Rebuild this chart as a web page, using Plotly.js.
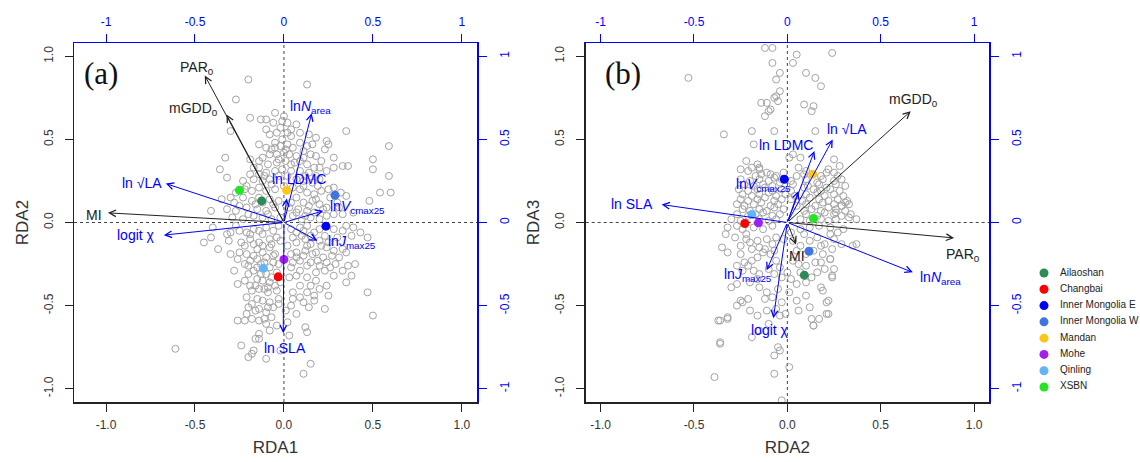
<!DOCTYPE html>
<html>
<head>
<meta charset="utf-8">
<script src="https://cdn.plot.ly/plotly-3.0.1.min.js"></script>
<style>html,body{margin:0;padding:0;background:#fff;}#chart{width:1140px;height:462px;}</style>
</head>
<body>
<div id="chart"></div>
<script>
// ---------- data ----------
const siteNames = ['Ailaoshan','Changbai','Inner Mongolia E','Inner Mongolia W','Mandan','Mohe','Qinling','XSBN'];
const siteColors = ['#2E8B57','#FF0000','#0000FF','#4174E3','#FFC51A','#A020F0','#63B4F5','#22E622'];
const siteA_x = [-0.125,-0.032,0.236,0.287,0.015,0.0,-0.116,-0.25];
const siteA_y = [0.13,-0.327,-0.022,0.164,0.194,-0.222,-0.276,0.194];
const siteB_x = [0.091,-0.228,-0.016,0.116,0.136,-0.155,-0.19,0.14];
const siteB_y = [-0.317,-0.006,0.26,-0.173,0.29,-0.002,0.048,0.024];

const varLabels = ['PAR<sub>0</sub>','mGDD<sub>0</sub>','MI','ln √LA','logit χ','ln<i>N</i><sub>area</sub>','ln LDMC','ln<i>V</i><sub>cmax25</sub>','ln<i>J</i><sub>max25</sub>','ln SLA'];
const varIsEnv = [true,true,true,false,false,false,false,false,false,false];
const arrowA_x = [-0.445,-0.323,-0.989,-0.664,-0.675,0.156,0.015,0.221,0.188,-0.004];
const arrowA_y = [0.885,0.65,0.058,0.234,-0.076,0.658,0.144,0.07,-0.11,-0.666];
const labelA_x = [-0.49,-0.51,-1.07,-0.80,-0.83,0.149,0.083,0.416,0.384,0.008];
const labelA_y = [0.93,0.685,0.044,0.238,-0.076,0.694,0.264,0.094,-0.117,-0.753];
const arrowB_x = [0.893,0.661,0.046,0.243,-0.075,0.672,0.145,0.059,-0.111,-0.673];
const arrowB_y = [-0.093,0.67,-0.132,0.5,-0.576,-0.30,0.43,0.189,-0.288,0.108];
const labelB_x = [0.941,0.673,0.05,0.32,-0.095,0.82,-0.007,-0.13,-0.213,-0.83];
const labelB_y = [-0.193,0.735,-0.203,0.56,-0.645,-0.334,0.466,0.223,-0.313,0.112];

const tickVals = [-1,-0.5,0,0.5,1];
const tickMain = ['-1.0','-0.5','0.0','0.5','1.0'];
const tickSec = ['-1','-0.5','0','0.5','1'];

// sample scores, panel (a): RDA1 vs RDA2
const ptsA = [
[-0.20,0.86],[0.13,0.83],[-0.27,0.74],[-0.05,0.66],[0.0,0.64],[-0.01,0.61],[0.02,0.60],[0.07,0.59],[0.04,0.56],[-0.02,0.57],
[-0.10,0.62],[-0.13,0.62],[-0.10,0.56],[-0.06,0.60],[-0.19,0.63],[-0.30,0.55],[0.02,0.54],[-0.04,0.54],[-0.08,0.53],[-0.01,0.50],
[-0.05,0.48],[0.04,0.52],[0.09,0.54],[0.14,0.53],[0.18,0.51],[0.35,0.55],[0.24,0.49],[0.25,0.47],[-0.14,0.47],[-0.10,0.45],
[-0.05,0.45],[-0.02,0.46],[0.02,0.47],[0.05,0.45],[0.09,0.48],[0.13,0.46],[0.16,0.47],[-0.08,0.41],[-0.04,0.41],[0.0,0.42],
[0.03,0.41],[0.07,0.40],[0.11,0.43],[0.15,0.41],[0.18,0.40],[0.23,0.44],[-0.12,0.39],[-0.14,0.37],[-0.19,0.38],[-0.33,0.39],
[0.28,0.39],[0.21,0.37],[0.50,0.38],[0.59,0.46],[-0.17,0.33],[-0.14,0.33],[-0.09,0.35],[-0.04,0.36],[0.01,0.37],[0.04,0.35],
[0.09,0.37],[0.13,0.35],[0.17,0.33],[0.20,0.33],[0.24,0.31],[0.28,0.33],[0.33,0.34],[0.36,0.34],[-0.19,0.29],[-0.14,0.29],
[-0.10,0.30],[-0.05,0.31],[-0.01,0.32],[0.04,0.31],[0.09,0.31],[0.14,0.30],[0.18,0.28],[-0.36,0.32],[-0.32,0.27],[0.50,0.32],
[0.59,0.28],[-0.23,0.25],[-0.17,0.26],[-0.12,0.25],[-0.08,0.26],[0.07,0.26],[0.11,0.25],[0.16,0.24],[0.20,0.26],[-0.30,0.15],
[-0.27,0.18],[-0.22,0.20],[-0.18,0.19],[-0.14,0.21],[-0.10,0.19],[-0.05,0.20],[0.05,0.21],[0.09,0.20],[0.13,0.18],[0.17,0.17],
[0.21,0.19],[0.25,0.20],[0.28,0.21],[0.32,0.18],[0.35,0.16],[-0.35,0.14],[-0.28,0.12],[-0.23,0.15],[-0.18,0.13],[-0.14,0.15],
[-0.08,0.14],[-0.03,0.13],[0.07,0.15],[0.11,0.12],[0.16,0.13],[0.20,0.11],[0.24,0.09],[0.54,0.18],[0.60,0.18],[0.48,0.13],
[-0.41,0.07],[-0.32,0.08],[-0.27,0.07],[-0.21,0.09],[-0.15,0.08],[-0.10,0.07],[-0.05,0.09],[0.03,0.09],[0.08,0.08],[0.13,0.07],
[0.17,0.06],[0.22,0.08],[0.28,0.05],[0.33,0.05],[0.39,0.06],[-0.29,0.03],[-0.23,0.02],[-0.17,0.04],[-0.12,0.03],[-0.07,0.02],
[-0.02,0.03],[0.05,0.04],[0.10,0.02],[0.15,0.03],[0.20,0.02],
[-0.40,-0.03],[-0.32,-0.07],[-0.30,-0.06],[-0.25,-0.05],[-0.21,-0.06],[-0.17,-0.04],[-0.14,-0.05],[-0.10,-0.03],[-0.06,-0.05],[-0.03,-0.02],
[0.04,-0.04],[0.09,-0.03],[0.13,-0.02],[0.17,-0.06],[0.20,-0.04],[0.28,-0.04],[0.33,-0.05],[0.35,-0.02],[0.39,-0.03],[0.43,-0.06],
[0.47,-0.09],[-0.45,-0.12],[-0.41,-0.09],[-0.31,-0.11],[-0.24,-0.12],[-0.19,-0.10],[-0.14,-0.12],[-0.08,-0.10],[-0.04,-0.09],[0.05,-0.09],
[0.10,-0.08],[0.13,-0.14],[0.20,-0.11],[0.24,-0.15],[0.28,-0.17],[0.33,-0.16],[0.35,-0.18],[-0.37,-0.16],[-0.30,-0.19],[-0.25,-0.18],
[-0.21,-0.19],[-0.15,-0.16],[-0.12,-0.18],[-0.08,-0.15],[-0.05,-0.19],[0.04,-0.19],[0.07,-0.18],[0.11,-0.20],[0.16,-0.19],[0.18,-0.18],
[0.22,-0.21],[-0.19,-0.23],[-0.15,-0.22],[-0.10,-0.21],[-0.06,-0.24],[0.05,-0.24],[0.09,-0.23],[0.15,-0.24],[0.19,-0.23],[0.29,-0.25],
[0.33,-0.29],[0.36,-0.26],[0.40,-0.25],[-0.28,-0.29],[-0.20,-0.26],[-0.20,-0.31],[-0.15,-0.27],[0.04,-0.27],[0.09,-0.29],[0.13,-0.26],
[0.18,-0.30],[0.23,-0.29],[0.28,-0.32],[-0.26,-0.37],[-0.15,-0.34],[-0.12,-0.35],[-0.08,-0.36],[-0.05,-0.38],[0.03,-0.33],[0.07,-0.32],
[0.13,-0.33],[0.18,-0.35],[0.24,-0.38],[0.35,-0.36],[0.38,-0.32],[-0.18,-0.41],[-0.14,-0.40],[-0.09,-0.42],[-0.04,-0.41],[0.05,-0.42],
[0.09,-0.45],[0.13,-0.42],[0.17,-0.44],[0.20,-0.40],[0.25,-0.44],[0.47,-0.42],[-0.21,-0.45],[-0.15,-0.46],[-0.12,-0.47],[-0.08,-0.48],
[-0.03,-0.46],[0.05,-0.46],[0.17,-0.47],[-0.20,-0.51],[-0.16,-0.53],[-0.14,-0.52],[-0.10,-0.54],[-0.06,-0.51],[-0.03,-0.49],[0.04,-0.50],
[0.07,-0.55],[0.11,-0.48],[0.23,-0.52],[0.50,-0.56],[-0.26,-0.59],[-0.22,-0.59],[-0.18,-0.58],[-0.14,-0.59],[-0.11,-0.58],[-0.10,-0.61],
[-0.08,-0.65],[-0.04,-0.62],[0.02,-0.60],[0.12,-0.63],[0.13,-0.66],[-0.16,-0.70],[-0.14,-0.67],[-0.14,-0.70],[-0.20,-0.81],[-0.18,-0.79],
[-0.17,-0.77],[-0.24,-0.74],[-0.10,-0.82],[0.03,-0.68],[-0.61,-0.76],[0.15,-0.85],[0.11,-0.91],[-0.02,-0.77],
[-0.22,-0.14],[-0.17,-0.13],[-0.12,-0.14],[-0.07,-0.13],[-0.02,-0.11],[-0.17,-0.20],[-0.13,-0.25],[-0.08,-0.27],[-0.04,-0.30],[-0.10,-0.31],
[-0.16,-0.38],[-0.11,-0.40],[-0.07,-0.33],[0.02,-0.14],[0.07,-0.12],[0.12,-0.10],[0.15,-0.13],[0.21,-0.14],[0.25,-0.12],[0.27,-0.20],
[0.24,-0.24],[0.20,-0.26],[-0.03,-0.25],
[-0.03,0.38],[0.06,0.36],[-0.07,0.44],[0.01,0.44],[0.11,0.39],[-0.11,0.28],[-0.03,0.28],[0.02,0.28],[0.12,0.28],[-0.21,0.22],
[-0.07,0.23],[0.0,0.22],[0.11,0.22],[0.19,0.22],[-0.25,0.10],[-0.16,0.11],[-0.12,0.12],[-0.06,0.11],[0.04,0.12],[0.14,0.10],
[0.18,0.14],[0.26,0.15],[0.30,0.12],[-0.20,0.05],[-0.09,0.05],[0.07,0.06],[0.12,0.04],[0.24,0.04],[0.31,0.09],[-0.27,-0.02],
[-0.19,-0.07],[-0.12,-0.07],[0.07,-0.06],[0.11,-0.05],[0.15,-0.08],[0.23,-0.08],[0.30,-0.09],[0.38,-0.08],[-0.26,-0.22],[-0.22,-0.25],
[-0.17,-0.29],[-0.11,-0.24],[-0.06,-0.20],[0.07,-0.21],[0.12,-0.17],[0.26,-0.27],[0.31,-0.21],[-0.22,-0.35],[-0.19,-0.38],[-0.13,-0.31],
[-0.09,-0.39],[-0.02,-0.36],[0.09,-0.38],[0.15,-0.38],[-0.18,-0.49],[-0.09,-0.51],[0.01,-0.53],[0.14,-0.51],[-0.21,-0.55],[-0.07,-0.57]
];

// sample scores, panel (b): RDA2 vs RDA3
const ptsB = [
[-0.12,1.05],[-0.08,1.05],[0.05,1.01],[0.24,1.02],[-0.08,0.96],[0.03,0.96],[-0.53,0.87],[-0.04,0.90],[-0.06,0.86],[0.10,0.90],
[0.15,0.87],[0.18,0.82],[-0.04,0.79],[-0.06,0.76],[-0.07,0.75],[-0.05,0.73],[-0.14,0.72],[-0.11,0.72],[-0.09,0.68],[-0.10,0.67],
[-0.12,0.64],[0.09,0.71],[0.14,0.70],[0.13,0.67],[-0.19,0.55],[-0.07,0.55],[0.15,0.55],[-0.34,0.53],[-0.18,0.47],[-0.22,0.37],
[-0.16,0.35],[-0.19,0.33],[-0.15,0.33],[0.01,0.39],[0.03,0.41],[0.07,0.39],[0.25,0.38],[0.28,0.34],
[-0.25,0.32],[-0.21,0.31],[-0.15,0.32],[-0.11,0.30],[0.06,0.33],[0.10,0.31],[0.22,0.32],[0.25,0.30],
[-0.17,0.28],[-0.14,0.29],[-0.09,0.29],[-0.06,0.28],[-0.02,0.30],[0.05,0.28],[0.09,0.29],[0.18,0.28],[0.21,0.30],[0.27,0.28],
[-0.25,0.26],[-0.20,0.25],[-0.15,0.26],[-0.10,0.25],[-0.07,0.27],[-0.03,0.26],[0.02,0.25],[0.10,0.26],[0.16,0.24],[0.19,0.26],[0.25,0.25],[0.29,0.26],
[-0.23,0.23],[-0.18,0.22],[-0.13,0.23],[-0.08,0.22],[-0.04,0.24],[0.03,0.23],[0.11,0.22],[0.17,0.23],[0.21,0.21],[0.26,0.23],[0.31,0.22],
[-0.26,0.20],[-0.21,0.19],[-0.16,0.20],[-0.12,0.21],[-0.08,0.19],[-0.03,0.20],[0.02,0.19],[0.09,0.21],[0.14,0.20],[0.18,0.19],[0.23,0.20],[0.28,0.19],
[-0.24,0.17],[-0.19,0.16],[-0.15,0.17],[-0.10,0.18],[-0.06,0.16],[-0.01,0.17],[0.04,0.16],[0.10,0.17],[0.16,0.18],[0.20,0.16],[0.25,0.17],[0.30,0.16],
[-0.25,0.14],[-0.21,0.13],[-0.16,0.14],[-0.12,0.15],[-0.07,0.13],[-0.03,0.14],[0.02,0.14],[0.08,0.13],[0.12,0.15],[0.17,0.14],[0.22,0.13],[0.27,0.14],[0.32,0.13],
[-0.27,0.11],[-0.23,0.10],[-0.18,0.11],[-0.14,0.12],[-0.09,0.10],[-0.05,0.11],[0.05,0.10],[0.10,0.11],[0.15,0.10],[0.19,0.12],[0.25,0.11],[0.29,0.10],[0.33,0.11],
[-0.24,0.08],[-0.20,0.07],[-0.15,0.08],[-0.11,0.07],[-0.07,0.09],[-0.02,0.08],[0.09,0.07],[0.13,0.08],[0.18,0.07],[0.22,0.09],[0.26,0.08],[0.31,0.07],
[-0.27,0.05],[-0.21,0.04],[-0.17,0.05],[-0.13,0.06],[-0.08,0.04],[-0.04,0.05],[0.10,0.05],[0.16,0.04],[0.20,0.06],[0.25,0.05],[0.29,0.04],[0.34,0.05],
[-0.30,0.02],[-0.25,0.01],[-0.15,0.02],[-0.10,0.01],[-0.06,0.02],[0.07,0.02],[0.12,0.01],[0.18,0.02],[0.22,0.01],[0.26,0.02],[0.37,0.02],
[-0.32,-0.03],[-0.27,-0.02],[-0.24,-0.04],[-0.18,-0.03],[-0.13,-0.04],[-0.08,-0.02],[0.07,-0.04],[0.12,-0.03],[0.17,-0.02],[0.23,-0.03],[0.30,-0.04],[0.27,-0.06],
[-0.33,-0.07],[-0.35,-0.15],[-0.32,-0.18],[-0.28,-0.09],[-0.25,-0.14],[-0.22,-0.07],[-0.20,-0.12],[-0.16,-0.11],[-0.15,-0.15],[-0.11,-0.10],
[-0.08,-0.13],[-0.06,-0.09],[0.03,-0.11],[0.07,-0.14],[0.09,-0.07],[0.12,-0.11],[0.16,-0.09],[0.18,-0.14],[0.23,-0.07],[0.37,-0.13],
[0.35,-0.14],[0.29,-0.13],[-0.25,-0.19],[-0.23,-0.24],[-0.19,-0.23],[-0.16,-0.21],[-0.13,-0.18],[-0.09,-0.19],[-0.06,-0.23],[-0.04,-0.27],
[0.03,-0.23],[0.06,-0.25],[0.10,-0.26],[0.15,-0.24],[0.19,-0.19],[0.23,-0.22],[0.25,-0.28],[0.16,-0.30],[0.20,-0.28],[0.24,-0.33],
[-0.27,-0.26],[-0.24,-0.29],[-0.18,-0.29],[-0.15,-0.31],[-0.07,-0.31],[-0.03,-0.33],[0.02,-0.34],[0.05,-0.37],[0.10,-0.36],[0.13,-0.33],
[0.18,-0.39],[0.19,-0.41],[-0.30,-0.39],[-0.27,-0.37],[-0.16,-0.34],[-0.15,-0.39],[-0.11,-0.42],[-0.08,-0.45],[-0.05,-0.40],[-0.03,-0.48],
[0.01,-0.42],[0.05,-0.47],[0.10,-0.44],[0.21,-0.48],[-0.24,-0.48],[-0.25,-0.47],[-0.21,-0.46],[-0.27,-0.50],[-0.32,-0.57],[-0.36,-0.59],
[-0.20,-0.53],[-0.16,-0.56],[-0.11,-0.53],[-0.06,-0.52],[-0.01,-0.55],[0.06,-0.53],[0.12,-0.51],[0.21,-0.55],[0.13,-0.58],[0.14,-0.62],
[-0.19,-0.69],[-0.15,-0.65],[-0.10,-0.61],[-0.36,-0.72],[-0.05,-0.75],[-0.04,-0.77],[-0.07,-0.80],[0.01,-0.87],[-0.07,-0.91],[-0.39,-0.93],
[-0.03,-1.07],
[-0.22,-0.10],[-0.19,-0.16],[-0.12,-0.16],[-0.07,-0.17],[-0.02,-0.10],[0.02,-0.06],[0.05,-0.17],[0.10,-0.19],[0.14,-0.17],[0.20,-0.13],
[0.24,-0.16],[0.18,-0.24],[-0.20,-0.36],[-0.10,-0.28],[-0.21,-0.26],[0.00,-0.30],[0.07,-0.30],[-0.12,-0.46],[-0.04,-0.56],
[0.25,-0.10],[0.23,-0.22],[0.24,-0.32],[0.22,-0.47],[0.22,-0.55],[0.17,-0.58],[0.14,-0.62],[-0.37,-0.59],[-0.32,-0.58],[-0.36,-0.73],
[0.33,0.03],[0.29,0.10],[0.31,0.12],[0.26,0.06]
];

// ---------- styling ----------
const FONT = 'Liberation Sans, Arial, sans-serif';
const BLUE = '#0000FF';
const DARK = '#222222';
const TXT = '#333333';
const W = 1140, H = 462;
const px = v => v / W;
const py = v => 1 - v / H;
const domA = [px(74), px(477)];
const domB = [px(585.7), px(989)];
const domY = [py(402), py(43)];
const rangeAx = [-1.18, 1.085];
const rangeB = [-1.08, 1.08];
const rangeY = [-1.08, 1.08];

function mainX(dom, range, title) {
  return {domain: dom, range: range, showgrid: false, zeroline: false,
    showline: true, linecolor: DARK, linewidth: 1.5, ticks: 'outside', ticklen: 8, tickcolor: DARK, tickwidth: 1,
    tickvals: tickVals, ticktext: tickMain, tickfont: {family: FONT, size: 12, color: TXT}, ticklabelstandoff: 3,
    title: {text: title, font: {family: FONT, size: 17, color: TXT}, standoff: 10}, fixedrange: true};
}
function mainY(range, title) {
  return {domain: domY, range: range, showgrid: false, zeroline: false,
    showline: true, linecolor: DARK, linewidth: 1.5, ticks: 'outside', ticklen: 8, tickcolor: DARK, tickwidth: 1,
    tickvals: tickVals, ticktext: tickMain, tickangle: -90, tickfont: {family: FONT, size: 12, color: TXT}, ticklabelstandoff: 7,
    title: {text: title, font: {family: FONT, size: 17, color: TXT}, standoff: 9}, fixedrange: true};
}
function secX(over, anchor, range) {
  return {overlaying: over, anchor: anchor, side: 'top', range: range, showgrid: false, zeroline: false,
    showline: true, linecolor: BLUE, linewidth: 1.5, ticks: 'outside', ticklen: 8, tickcolor: BLUE, tickwidth: 1,
    tickvals: tickVals, ticktext: tickSec, tickfont: {family: FONT, size: 12, color: BLUE}, ticklabelstandoff: 3, fixedrange: true};
}
function secY(over, anchor, range) {
  return {overlaying: over, anchor: anchor, side: 'right', range: range, showgrid: false, zeroline: false,
    showline: true, linecolor: BLUE, linewidth: 1.5, ticks: 'outside', ticklen: 8, tickcolor: BLUE, tickwidth: 1,
    tickvals: tickVals, ticktext: tickSec, tickangle: -90, tickfont: {family: FONT, size: 12, color: BLUE}, ticklabelstandoff: 8, fixedrange: true};
}

const traces = [];
function addPanel(pts, sx, sy, xa, ya) {
  traces.push({x: pts.map(p => p[0]), y: pts.map(p => p[1]), xaxis: xa, yaxis: ya, type: 'scatter', mode: 'markers',
    marker: {symbol: 'circle-open', size: 7, color: '#A3A3A3', line: {width: 1, color: '#A3A3A3'}}, hoverinfo: 'skip'});
  traces.push({x: sx, y: sy, xaxis: xa, yaxis: ya, type: 'scatter', mode: 'markers',
    marker: {symbol: 'circle', size: 9, color: siteColors}, text: siteNames, hoverinfo: 'text'});
}
addPanel(ptsA, siteA_x, siteA_y, 'x', 'y');
addPanel(ptsB, siteB_x, siteB_y, 'x2', 'y2');
// traces anchoring the secondary (blue) axes
traces.push({x: [0], y: [0], xaxis: 'x3', yaxis: 'y3', mode: 'markers', marker: {opacity: 0}, hoverinfo: 'skip'});
traces.push({x: [0], y: [0], xaxis: 'x4', yaxis: 'y4', mode: 'markers', marker: {opacity: 0}, hoverinfo: 'skip'});
// legend (drawn on a hidden axis)
const legIdx = siteNames.map((_, i) => i);
traces.push({x: legIdx.map(() => 14), y: legIdx, xaxis: 'x5', yaxis: 'y5', mode: 'markers',
  marker: {size: 9, color: siteColors}, hoverinfo: 'skip'});
traces.push({x: legIdx.map(() => 30), y: legIdx, xaxis: 'x5', yaxis: 'y5', mode: 'text', text: siteNames,
  textposition: 'middle right', textfont: {family: FONT, size: 10, color: '#222'}, hoverinfo: 'skip'});

const annotations = [];
function addArrows(ax_, ay_, lx, ly, xr, yr) {
  varLabels.forEach((lab, i) => {
    const col = varIsEnv[i] ? DARK : BLUE;
    annotations.push({x: ax_[i], y: ay_[i], xref: xr, yref: yr, axref: xr, ayref: yr, ax: 0, ay: 0,
      showarrow: true, arrowhead: 5, arrowsize: 1.3, arrowwidth: 1, arrowcolor: col, standoff: 0, startstandoff: 0, text: ''});
    annotations.push({x: lx[i], y: ly[i], xref: xr, yref: yr, showarrow: false, text: lab,
      font: {family: FONT, size: 14, color: col}, xanchor: 'center', yanchor: 'middle'});
  });
}
addArrows(arrowA_x, arrowA_y, labelA_x, labelA_y, 'x', 'y');
addArrows(arrowB_x, arrowB_y, labelB_x, labelB_y, 'x2', 'y2');
annotations.push({xref: 'paper', yref: 'paper', x: px(101), y: py(73), text: '(a)', showarrow: false,
  font: {family: 'Liberation Serif, Times New Roman, serif', size: 31, color: '#111'}, xanchor: 'center', yanchor: 'middle'});
annotations.push({xref: 'paper', yref: 'paper', x: px(623), y: py(73), text: '(b)', showarrow: false,
  font: {family: 'Liberation Serif, Times New Roman, serif', size: 31, color: '#111'}, xanchor: 'center', yanchor: 'middle'});

function zeroLines(xr, yr) {
  return [
    {type: 'line', xref: xr, yref: yr + ' domain', x0: 0, x1: 0, y0: 0, y1: 1, line: {color: '#444', width: 1, dash: 'dot'}, layer: 'below'},
    {type: 'line', xref: xr + ' domain', yref: yr, x0: 0, x1: 1, y0: 0, y1: 0, line: {color: '#444', width: 1, dash: 'dot'}, layer: 'below'}
  ];
}

const layout = {
  width: W, height: H, margin: {l: 0, r: 0, t: 0, b: 0}, showlegend: false,
  paper_bgcolor: '#fff', plot_bgcolor: 'rgba(0,0,0,0)', font: {family: FONT},
  xaxis: Object.assign(mainX(domA, rangeAx, 'RDA1'), {anchor: 'y'}),
  yaxis: Object.assign(mainY(rangeY, 'RDA2'), {anchor: 'x'}),
  xaxis2: Object.assign(mainX(domB, rangeB, 'RDA2'), {anchor: 'y2'}),
  yaxis2: Object.assign(mainY(rangeY, 'RDA3'), {anchor: 'x2'}),
  xaxis3: secX('x', 'y3', rangeAx),
  yaxis3: secY('y', 'x3', rangeY),
  xaxis4: secX('x2', 'y4', rangeB),
  yaxis4: secY('y2', 'x4', rangeY),
  xaxis5: {domain: [px(1030), 1], range: [0, 110], visible: false, fixedrange: true},
  yaxis5: {domain: [py(400), py(260)], range: [7.8, -0.8], visible: false, fixedrange: true, anchor: 'x5'},
  shapes: zeroLines('x', 'y').concat(zeroLines('x2', 'y2')),
  annotations: annotations
};

Plotly.newPlot('chart', traces, layout, {staticPlot: true, displayModeBar: false});
</script>
</body>
</html>
